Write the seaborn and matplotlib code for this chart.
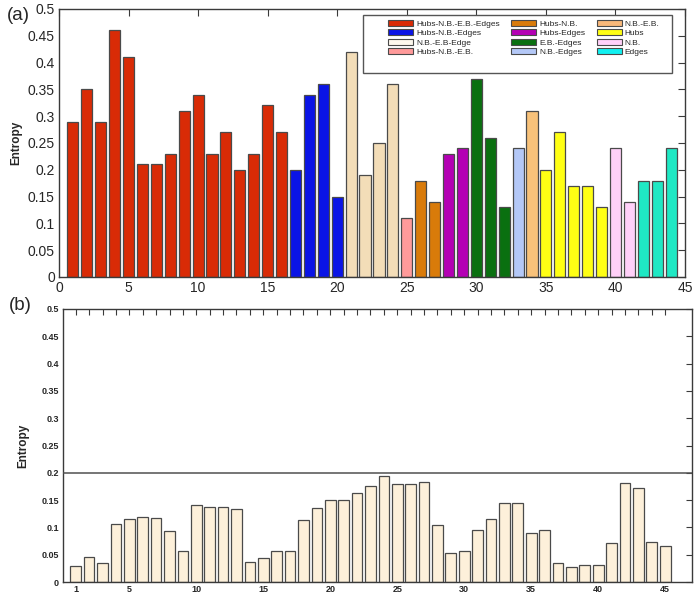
import numpy as np
import pandas as pd
import matplotlib
matplotlib.use("Agg")
import matplotlib.pyplot as plt
from matplotlib.patches import Patch, Rectangle
import seaborn as sns

# ---------------- data ----------------
a_values = [0.29, 0.35, 0.29, 0.46, 0.41, 0.21, 0.21, 0.23, 0.31, 0.34, 0.23, 0.27, 0.20, 0.23, 0.32, 0.27,
            0.20, 0.34, 0.36, 0.15,
            0.42, 0.19, 0.25, 0.36,
            0.11,
            0.18, 0.14,
            0.23, 0.24,
            0.37, 0.26, 0.13,
            0.24,
            0.31,
            0.20, 0.27, 0.17, 0.17, 0.13,
            0.24, 0.14,
            0.18, 0.18, 0.24]
a_groups = (["Hubs-N.B.-E.B.-Edges"] * 16 + ["Hubs-N.B.-Edges"] * 4 + ["N.B.-E.B-Edge"] * 4 +
            ["Hubs-N.B.-E.B."] * 1 + ["Hubs-N.B."] * 2 + ["Hubs-Edges"] * 2 + ["E.B.-Edges"] * 3 +
            ["N.B.-Edges"] * 1 + ["N.B.-E.B."] * 1 + ["Hubs"] * 5 + ["N.B."] * 2 + ["Edges"] * 3)
a_index = list(range(1, len(a_values) + 1))

legend_labels = ["Hubs-N.B.-E.B.-Edges", "Hubs-N.B.-Edges", "N.B.-E.B-Edge", "Hubs-N.B.-E.B.",
                 "Hubs-N.B.", "Hubs-Edges", "E.B.-Edges", "N.B.-Edges",
                 "N.B.-E.B.", "Hubs", "N.B.", "Edges"]
bar_colors = ["#d92b06", "#0a14e6", "#f3ddb8", "#ff9a9a",
              "#d97b0a", "#b400b4", "#0a7010", "#b4c8f7",
              "#f8c27a", "#ffff14", "#ffd0f8", "#1fe8c4"]
legend_colors = ["#d92b06", "#0a14e6", "#fdf8ee", "#ff9a9a",
                 "#d97b0a", "#b400b4", "#0a7010", "#b4c8f7",
                 "#f8b87a", "#ffff14", "#ffd0f8", "#11f0f0"]

b_values = [0.030, 0.045, 0.034, 0.106, 0.116, 0.119, 0.117, 0.094, 0.056, 0.141,
            0.138, 0.137, 0.134, 0.037, 0.044, 0.057, 0.057, 0.114, 0.135, 0.151,
            0.151, 0.163, 0.175, 0.195, 0.180, 0.180, 0.183, 0.104, 0.053, 0.057,
            0.096, 0.115, 0.144, 0.144, 0.090, 0.095, 0.035, 0.027, 0.032, 0.032,
            0.072, 0.182, 0.172, 0.073, 0.066]
b_index = list(range(1, len(b_values) + 1))
b_threshold = 0.2

a_xticks = [0, 5, 10, 15, 20, 25, 30, 35, 40, 45]
b_xticks = [1, 5, 10, 15, 20, 25, 30, 35, 40, 45]
yticks = [0, 0.05, 0.1, 0.15, 0.2, 0.25, 0.3, 0.35, 0.4, 0.45, 0.5]
ytick_labels = ["0", "0.05", "0.1", "0.15", "0.2", "0.25", "0.3", "0.35", "0.4", "0.45", "0.5"]

# ---------------- style ----------------
sns.set_style("white")
plt.rcParams["font.family"] = ["Liberation Sans", "DejaVu Sans"]

fig = plt.figure(figsize=(6.97, 5.97), dpi=100)
W, H = 697, 597
axA = fig.add_axes([59 / W, 1 - 277 / H, (685 - 59) / W, (277 - 9) / H])
axB = fig.add_axes([63 / W, 1 - 582 / H, (692 - 63) / W, (582 - 309) / H])

spine_c = "#3a3a3a"
edge_c = "#4a4a4a"

# ---------------- panel (a) ----------------
dfa = pd.DataFrame({"idx": a_index, "entropy": a_values, "group": a_groups})
palette = dict(zip(legend_labels, bar_colors))
sns.barplot(data=dfa, x="idx", y="entropy", hue="group", palette=palette,
            native_scale=True, dodge=False, width=0.8, edgecolor=edge_c,
            linewidth=0.9, legend=False, ax=axA, saturation=1)
axA.set_xlim(0, 45)
axA.set_ylim(0, 0.5)
axA.set_xticks(a_xticks)
axA.set_xticklabels([str(t) for t in a_xticks], fontsize=10)
axA.set_yticks(yticks)
axA.set_yticklabels(ytick_labels, fontsize=10)
axA.tick_params(direction="in", top=True, right=True, length=5, width=0.8,
                color=spine_c, pad=3)
axA.set_xlabel("")
axA.set_ylabel("Entropy", fontsize=8.5, fontweight="bold", labelpad=4)
for s in axA.spines.values():
    s.set_color(spine_c)
    s.set_linewidth(1.0)

# legend frame + entries
axA.add_patch(Rectangle((0.486, 0.761), 0.493, 0.217, transform=axA.transAxes,
                        facecolor="white", edgecolor="#555555", linewidth=1.0, zorder=5))
handles = [Patch(facecolor=c, edgecolor=edge_c, linewidth=0.8) for c in legend_colors]
leg = axA.legend(handles, legend_labels, ncol=3, frameon=False, fontsize=6.0,
                 loc="upper left", bbox_to_anchor=(0.515, 0.985),
                 handlelength=3.0, handleheight=0.7, handletextpad=0.35,
                 columnspacing=1.4, labelspacing=0.2, borderpad=0.3)
leg.set_zorder(6)

fig.text(18 / W, 1 - 16 / H, "(a)", fontsize=13.5, ha="center", va="center")

# ---------------- panel (b) ----------------
dfb = pd.DataFrame({"idx": b_index, "entropy": b_values})
sns.barplot(data=dfb, x="idx", y="entropy", color="#fdf0da", native_scale=True,
            width=0.8, edgecolor=edge_c, linewidth=0.9, ax=axB, saturation=1)
axB.axhline(b_threshold, color="#505050", linewidth=1.1, zorder=4)
axB.set_xlim(0.05, 47)
axB.set_ylim(0, 0.5)
axB.set_xticks(b_xticks)
axB.set_xticklabels([str(t) for t in b_xticks], fontsize=6.5, fontweight="bold")
axB.set_xticks(b_index, minor=True)
axB.set_yticks(yticks)
axB.set_yticklabels(ytick_labels, fontsize=6.5, fontweight="bold")
axB.tick_params(which="major", direction="in", top=True, right=True, bottom=False,
                length=4, width=0.8, color=spine_c, pad=3)
axB.tick_params(which="minor", direction="in", top=True, bottom=False,
                length=4, width=0.8, color=spine_c)
axB.tick_params(axis="x", which="major", pad=2)
axB.set_xlabel("")
axB.set_ylabel("Entropy", fontsize=8.5, fontweight="bold", labelpad=9)
for s in axB.spines.values():
    s.set_color(spine_c)
    s.set_linewidth(1.0)

fig.text(20 / W, 1 - 305 / H, "(b)", fontsize=13.5, ha="center", va="center")

fig.savefig("out.png", dpi=100)
